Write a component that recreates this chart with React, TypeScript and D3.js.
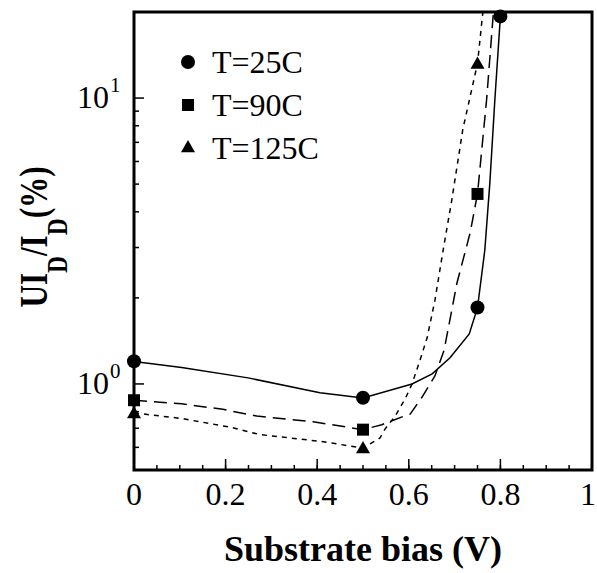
import React from "react";
import * as d3 from "d3";

// measured markers
const markX = [0, 0.5, 0.75, 0.8];
const t25 = [1.2, 0.895, 1.85, 19.3];
const markX90 = [0, 0.5, 0.75];
const t90 = [0.877, 0.692, 4.62];
const t125 = [0.792, 0.597, 13.2];

// fitted curves (x, y)
const fit25: [number, number][] = [
  [0, 1.198], [0.104, 1.141], [0.249, 1.05], [0.406, 0.932], [0.5, 0.893],
  [0.607, 1.0], [0.651, 1.084], [0.69, 1.235], [0.732, 1.496], [0.75, 1.848],
  [0.766, 2.94], [0.777, 5.06], [0.788, 9.92], [0.8, 19.3], [0.802, 22],
];
const fit90: [number, number][] = [
  [0, 0.877], [0.104, 0.852], [0.194, 0.815], [0.268, 0.772], [0.391, 0.737],
  [0.5, 0.692], [0.541, 0.72], [0.59, 0.772], [0.603, 0.784], [0.629, 0.9],
  [0.657, 1.067], [0.677, 1.31], [0.705, 2.25], [0.734, 3.38], [0.75, 4.62],
  [0.77, 9.92], [0.785, 20.2],
];
const fit125: [number, number][] = [
  [0, 0.792], [0.104, 0.757], [0.21, 0.706], [0.275, 0.665], [0.406, 0.63],
  [0.5, 0.597], [0.537, 0.647], [0.548, 0.695], [0.57, 0.771], [0.592, 0.886],
  [0.607, 1.0], [0.624, 1.205], [0.64, 1.45], [0.657, 1.96], [0.675, 2.94],
  [0.694, 4.41], [0.718, 7.78], [0.75, 13.2], [0.762, 20.2],
];

const xTicks = [0, 0.2, 0.4, 0.6, 0.8, 1];
const xTickLabels = ["0", "0.2", "0.4", "0.6", "0.8", "1"];
const xMinor = d3.range(0, 1.0001, 0.05);
const yMajor = [1, 10];
const yMinor = [0.5, 0.6, 0.7, 0.8, 0.9, 2, 3, 4, 5, 6, 7, 8, 9];
const legend = ["T=25C", "T=90C", "T=125C"];

const W = 597, H = 573;
const m = { left: 134, right: 5, top: 12, bottom: 103 };
const font = '"Liberation Serif", "Times New Roman", serif';

export default function App() {
  const x = d3.scaleLinear().domain([0, 1]).range([m.left, W - m.right]);
  const y = d3.scaleLog().domain([0.5, 20]).range([H - m.bottom, m.top]);
  const line = d3.line<[number, number]>().x((d) => x(d[0])).y((d) => y(d[1]));
  const x0 = x(0), x1 = x(1), y0 = y(0.5), y1 = y(20);

  const tri = (cx: number, cy: number, s = 7) =>
    `M${cx},${cy - s}L${cx + s},${cy + s * 0.75}L${cx - s},${cy + s * 0.75}Z`;

  return (
    <svg width={W} height={H} style={{ position: "absolute", left: 0, top: 0, background: "#fff", fontFamily: font }}>
      <defs>
        <clipPath id="plot">
          <rect x={x0} y={y1} width={x1 - x0} height={y0 - y1} />
        </clipPath>
      </defs>
      <g clipPath="url(#plot)" fill="none" stroke="#000" strokeWidth={1.5}>
        <path d={line(fit25) || ""} />
        <path d={line(fit90) || ""} strokeDasharray="13,7" />
        <path d={line(fit125) || ""} strokeDasharray="5,5" />
      </g>
      {markX.map((v, i) => (
        <circle key={"c" + i} cx={x(v)} cy={y(t25[i])} r={7} fill="#000" />
      ))}
      {markX90.map((v, i) => (
        <rect key={"s" + i} x={x(v) - 6} y={y(t90[i]) - 6} width={12} height={12} fill="#000" />
      ))}
      {markX90.map((v, i) => (
        <path key={"t" + i} d={tri(x(v), y(t125[i]))} fill="#000" />
      ))}

      {/* ticks */}
      <g stroke="#000" strokeWidth={1.5}>
        {xMinor.map((v, i) => (
          <line key={"xm" + i} x1={x(v)} x2={x(v)} y1={y0} y2={y0 - 5} />
        ))}
        {xTicks.map((v, i) => (
          <line key={"xt" + i} x1={x(v)} x2={x(v)} y1={y0} y2={y0 - 11} />
        ))}
        {yMinor.map((v, i) => (
          <line key={"ym" + i} x1={x0} x2={x0 + 5} y1={y(v)} y2={y(v)} />
        ))}
        {yMajor.map((v, i) => (
          <line key={"yt" + i} x1={x0} x2={x0 + 10} y1={y(v)} y2={y(v)} />
        ))}
      </g>
      <rect x={x0} y={y1} width={x1 - x0} height={y0 - y1} fill="none" stroke="#000" strokeWidth={3} />

      {xTicks.map((v, i) => (
        <text key={"xl" + i} x={Math.min(x(v), W - 9)} y={y0 + 35} fontSize={32} textAnchor="middle">
          {xTickLabels[i]}
        </text>
      ))}
      {yMajor.map((v, i) => (
        <g key={"yl" + i}>
          <text x={x0 - 25} y={y(v) + 10} fontSize={32} textAnchor="end">10</text>
          <text x={x0 - 24} y={y(v) - 6} fontSize={21}>{String(Math.log10(v))}</text>
        </g>
      ))}

      <text x={(x0 + x1) / 2} y={H - 12} fontSize={36} fontWeight="bold" textAnchor="middle">
        Substrate bias (V)
      </text>
      <text transform={`translate(47,237) rotate(-90) scale(0.78,1)`} fontSize={40} fontWeight="bold" textAnchor="middle">
        UI<tspan dy={20} fontSize={30}>D</tspan><tspan dy={-20}>/I</tspan><tspan dy={20} fontSize={30}>D</tspan><tspan dy={-20}>(%)</tspan>
      </text>

      {legend.map((t, i) => {
        const ly = 62 + i * 43;
        const lx = 188;
        return (
          <g key={"lg" + i}>
            {i === 0 && <circle cx={lx} cy={ly} r={7} fill="#000" />}
            {i === 1 && <rect x={lx - 6} y={ly - 6} width={12} height={12} fill="#000" />}
            {i === 2 && <path d={tri(lx, ly - 1)} fill="#000" />}
            <text x={212} y={ly + 11} fontSize={32}>{t}</text>
          </g>
        );
      })}
    </svg>
  );
}
